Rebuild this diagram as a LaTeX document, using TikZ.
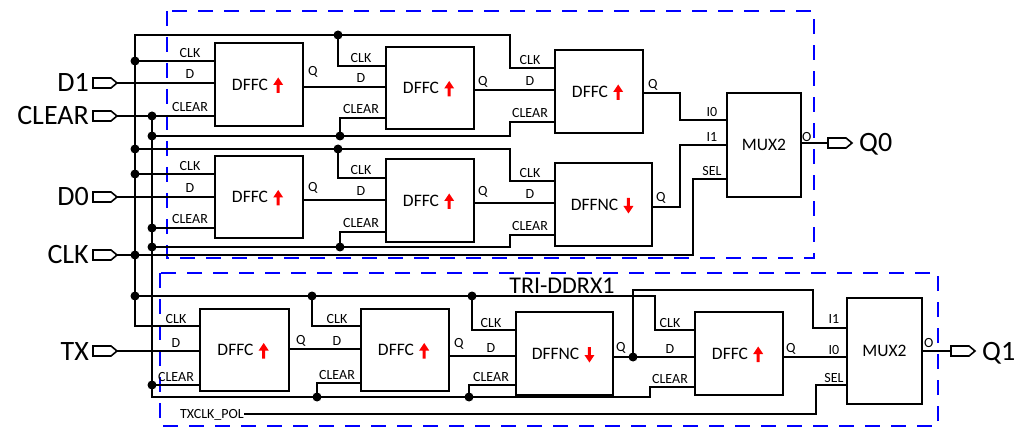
\documentclass[tikz,border=0pt]{standalone}
\usepackage{fontspec}
\setmainfont{Carlito}
\tikzset{
  uparr/.pic={\fill[red] (-1.5,7.5) -- (-1.5,-0.5) -- (-5,-0.5) -- (0,-8) -- (5,-0.5) -- (1.5,-0.5) -- (1.5,7.5) -- cycle;},
  dnarr/.pic={\fill[red] (-1.5,-7.5) -- (-1.5,0.5) -- (-5,0.5) -- (0,8) -- (5,0.5) -- (1.5,0.5) -- (1.5,-7.5) -- cycle;}
}
\newcommand\inport[3]{%
  \draw[port] (93,#2-5) -- (111,#2-5) -- (117,#2) -- (111,#2+5) -- (93,#2+5) -- cycle;
  \coordinate (#1) at (117,#2);
  \node[portlbl, anchor=base east] (#1t) at (89,#2+9) {#3};}
\newcommand\outport[4]{%
  \draw[port] (#2,#3-5) -- (#2+18,#3-5) -- (#2+24,#3) -- (#2+18,#3+5) -- (#2,#3+5) -- cycle;
  \coordinate (#1) at (#2,#3);
  \node[portlbl, anchor=base west] (#1t) at (#2+31,#3+9) {#4};}
\newcommand\fflbl[3]{%
  \node[boxlbl] (#1t) at ([xshift=-9pt]#1.center) {#2};
  \pic at ([xshift=10pt,yshift=-1pt]#1t.east) {#3};}
\begin{document}
\begin{tikzpicture}[x=1pt,y=-1pt,
  wire/.style={line width=2pt, line join=miter},
  ffbox/.style={draw, line width=2.3pt, fill=white, inner sep=0pt},
  pinlbl/.style={font=\fontsize{14}{14}\selectfont, inner sep=0pt},
  boxlbl/.style={font=\fontsize{17.5}{17.5}\selectfont, inner sep=0pt},
  portlbl/.style={font=\fontsize{28}{28}\selectfont, inner sep=0pt},
  dot/.style={circle, fill, inner sep=0pt, minimum size=9pt},
  grp/.style={draw=blue, line width=2.4pt, dash pattern=on 15pt off 11pt},
  port/.style={line width=1.6pt, fill=white}
]
\fill[white] (0,0) rectangle (1022,430);
\useasboundingbox (0,0) rectangle (1022,430);

% group boxes
\draw[grp] (167,11) rectangle (814,258);
\draw[grp] (160,273) rectangle (938,426);

% flip-flops and muxes
\node[ffbox, minimum width=88pt, minimum height=83pt] (f1) at (259,84.5) {};
\node[ffbox, minimum width=88pt, minimum height=82pt] (f2) at (430,88) {};
\node[ffbox, minimum width=88pt, minimum height=83pt] (f3) at (599,91.5) {};
\node[ffbox, minimum width=88pt, minimum height=82pt] (f4) at (259,197) {};
\node[ffbox, minimum width=88pt, minimum height=83pt] (f5) at (430,200.5) {};
\node[ffbox, minimum width=97pt, minimum height=83pt] (f6) at (603.5,204.5) {};
\node[ffbox, minimum width=74pt, minimum height=104pt] (ma) at (764,145) {};
\node[ffbox, minimum width=89pt, minimum height=82pt] (f7) at (244.5,350) {};
\node[ffbox, minimum width=88pt, minimum height=82pt] (f8) at (405,350) {};
\node[ffbox, minimum width=97pt, minimum height=83pt] (f9) at (564.5,353.5) {};
\node[ffbox, minimum width=88pt, minimum height=83pt] (f10) at (739,353.5) {};
\node[ffbox, minimum width=75pt, minimum height=106pt] (mb) at (884.5,351) {};

\fflbl{f1}{DFFC}{uparr}
\fflbl{f2}{DFFC}{uparr}
\fflbl{f3}{DFFC}{uparr}
\fflbl{f4}{DFFC}{uparr}
\fflbl{f5}{DFFC}{uparr}
\fflbl{f6}{DFFNC}{dnarr}
\fflbl{f7}{DFFC}{uparr}
\fflbl{f8}{DFFC}{uparr}
\fflbl{f9}{DFFNC}{dnarr}
\fflbl{f10}{DFFC}{uparr}
\node[boxlbl] (mat) at (ma.center) {MUX2};
\node[boxlbl] (mbt) at (mb.center) {MUX2};

% ports
\inport{pD1}{83}{D1}
\inport{pCLR}{116}{CLEAR}
\inport{pD0}{197}{D0}
\inport{pCLK}{255}{CLK}
\inport{pTX}{351}{TX}
\outport{pQ0}{828}{143}{Q0}
\outport{pQ1}{951}{351}{Q1}

% upper wires
\draw[wire] (f3.west |- 0,68) -- (510,68) -- (510,35) -- (135,35) -- (135,326) -- (f7.west |- 0,326);
\draw[wire] (338,35) -- (338,66) -- (f2.west |- 0,66);
\draw[wire] (135,61) -- (f1.west |- 0,61);
\draw[wire] (pD1) -- (f1.west |- 0,83);
\draw[wire] (pCLR) -- (f1.west |- 0,116);
\draw[wire] (152,116) -- (152,397) -- (650,397) -- (650,387) -- (f10.west |- 0,387);
\draw[wire] (152,136) -- (510,136) -- (510,122) -- (f3.west |- 0,122);
\draw[wire] (340,136) -- (340,118) -- (f2.west |- 0,118);
\draw[wire] (135,149) -- (510,149) -- (510,181) -- (f6.west |- 0,181);
\draw[wire] (338,149) -- (338,178) -- (f5.west |- 0,178);
\draw[wire] (135,174) -- (f4.west |- 0,174);
\draw[wire] (pD0) -- (f4.west |- 0,197);
\draw[wire] (152,228) -- (f4.west |- 0,228);
\draw[wire] (152,247) -- (510,247) -- (510,235) -- (f6.west |- 0,235);
\draw[wire] (340,247) -- (340,232) -- (f5.west |- 0,232);
\draw[wire] (pCLK) -- (693,255) -- (693,179) -- (ma.west |- 0,179);
\draw[wire] (f1.east |- 0,87) -- (f2.west |- 0,87);
\draw[wire] (f2.east |- 0,90) -- (f3.west |- 0,90);
\draw[wire] (f3.east |- 0,93) -- (680,93) -- (680,120) -- (ma.west |- 0,120);
\draw[wire] (f4.east |- 0,200) -- (f5.west |- 0,200);
\draw[wire] (f5.east |- 0,203) -- (f6.west |- 0,203);
\draw[wire] (f6.east |- 0,207) -- (680,207) -- (680,145) -- (ma.west |- 0,145);
\draw[wire] (ma.east |- 0,143) -- (pQ0);

% lower wires
\draw[wire] (135,296) -- (655,296) -- (655,330) -- (f10.west |- 0,330);
\draw[wire] (312,296) -- (312,326) -- (f8.west |- 0,326);
\draw[wire] (472,296) -- (472,330) -- (f9.west |- 0,330);
\draw[wire] (pTX) -- (f7.west |- 0,351);
\draw[wire] (152,385) -- (f7.west |- 0,385);
\draw[wire] (317,397) -- (317,383) -- (f8.west |- 0,383);
\draw[wire] (469,397) -- (469,385) -- (f9.west |- 0,385);
\draw[wire] (f7.east |- 0,349) -- (f8.west |- 0,349);
\draw[wire] (f8.east |- 0,356) -- (f9.west |- 0,356);
\draw[wire] (f9.east |- 0,357) -- (f10.west |- 0,357);
\draw[wire] (633,357) -- (633,290) -- (813,290) -- (813,328) -- (mb.west |- 0,328);
\draw[wire] (f10.east |- 0,357) -- (mb.west |- 0,357);
\node[pinlbl, anchor=base east] (txpol) at (244,418.5) {TXCLK\_POL};
\draw[wire] (txpol.east |- 0,414) -- (816,414) -- (816,385) -- (mb.west |- 0,385);
\draw[wire] (mb.east |- 0,351) -- (pQ1);

% junction dots
\foreach \p in {(135,61),(152,116),(338,35),(152,136),(340,136),(135,149),(338,149),(135,174),(152,228),(152,247),(340,247),(135,255),(135,296),(312,296),(472,296),(152,385),(317,397),(469,397),(633,357)}
  \node[dot] at \p {};

% pin labels of flip-flops
\foreach \n/\lx/\c/\d/\r in {f1/190/61/83/116, f2/361/66/87/118, f3/530/68/90/122, f4/190/174/197/228, f5/361/178/200/232, f6/530/181/203/235, f7/176/326/351/385, f8/337/326/349/383, f9/491/330/356/385, f10/670/330/357/387}{
  \node[pinlbl, anchor=base] (\n c) at (\lx,\c-3) {CLK};
  \node[pinlbl, anchor=base] (\n d) at (\lx,\d-4) {D};
  \node[pinlbl, anchor=base] (\n r) at (\lx,\r-4) {CLEAR};
}
% Q labels
\foreach \n/\qx/\qy in {f1/308/76, f2/478/86, f3/648/89, f4/308/192, f5/478/196, f6/656/202, f7/296/344, f8/454/347, f9/616/351, f10/786/352}{
  \node[pinlbl, anchor=base west] (\n q) at (\qx,\qy) {Q};
}
% mux labels
\node[pinlbl, anchor=base] (ma0) at (712,117) {I0};
\node[pinlbl, anchor=base] (ma1) at (712,142) {I1};
\node[pinlbl, anchor=base] (mas) at (712,176) {SEL};
\node[pinlbl, anchor=base west] (mao) at (802,142) {O};
\node[pinlbl, anchor=base] (mb1) at (834,323) {I1};
\node[pinlbl, anchor=base] (mb0) at (834,354) {I0};
\node[pinlbl, anchor=base] (mbs) at (834,382) {SEL};
\node[pinlbl, anchor=base west] (mbo) at (924,347) {O};

\node[font=\fontsize{24}{24}\selectfont, inner sep=0pt, anchor=base] (title) at (562,293) {TRI-DDRX1};
\end{tikzpicture}
\end{document}
